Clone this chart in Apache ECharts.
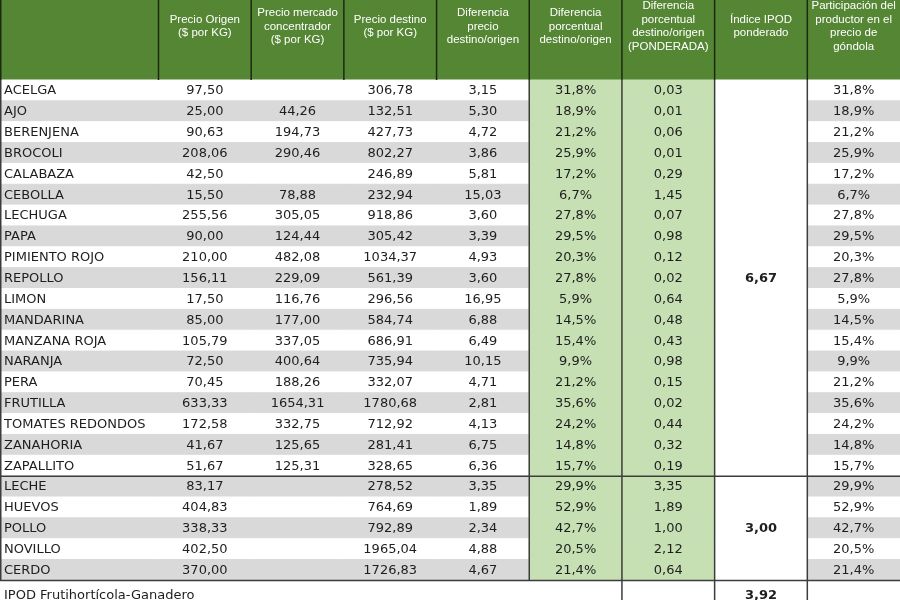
<!DOCTYPE html>
<html>
<head>
<meta charset="utf-8">
<script src="https://cdn.jsdelivr.net/npm/echarts@6/dist/echarts.min.js"></script>
<style>
  html, body { margin: 0; padding: 0; background: #fff; }
  #chart { width: 900px; height: 600px; }
</style>
</head>
<body>
<div id="chart"></div>
<script>
// column headers
const headers = [
  '',
  'Precio Origen\n($ por KG)',
  'Precio mercado\nconcentrador\n($ por KG)',
  'Precio destino\n($ por KG)',
  'Diferencia\nprecio\ndestino/origen',
  'Diferencia\nporcentual\ndestino/origen',
  'Diferencia\nporcentual\ndestino/origen\n(PONDERADA)',
  'Índice IPOD\nponderado',
  'Participación del\nproductor en el\nprecio de\ngóndola'
];

const products = [
  'ACELGA', 'AJO', 'BERENJENA', 'BROCOLI', 'CALABAZA', 'CEBOLLA', 'LECHUGA',
  'PAPA', 'PIMIENTO ROJO', 'REPOLLO', 'LIMON', 'MANDARINA', 'MANZANA ROJA',
  'NARANJA', 'PERA', 'FRUTILLA', 'TOMATES REDONDOS', 'ZANAHORIA', 'ZAPALLITO',
  'LECHE', 'HUEVOS', 'POLLO', 'NOVILLO', 'CERDO'
];

const precioOrigen = [
  97.50, 25.00, 90.63, 208.06, 42.50, 15.50, 255.56, 90.00, 210.00, 156.11,
  17.50, 85.00, 105.79, 72.50, 70.45, 633.33, 172.58, 41.67, 51.67,
  83.17, 404.83, 338.33, 402.50, 370.00
];

const precioMercado = [
  null, 44.26, 194.73, 290.46, null, 78.88, 305.05, 124.44, 482.08, 229.09,
  116.76, 177.00, 337.05, 400.64, 188.26, 1654.31, 332.75, 125.65, 125.31,
  null, null, null, null, null
];

const precioDestino = [
  306.78, 132.51, 427.73, 802.27, 246.89, 232.94, 918.86, 305.42, 1034.37, 561.39,
  296.56, 584.74, 686.91, 735.94, 332.07, 1780.68, 712.92, 281.41, 328.65,
  278.52, 764.69, 792.89, 1965.04, 1726.83
];

const diferencia = [
  3.15, 5.30, 4.72, 3.86, 5.81, 15.03, 3.60, 3.39, 4.93, 3.60,
  16.95, 6.88, 6.49, 10.15, 4.71, 2.81, 4.13, 6.75, 6.36,
  3.35, 1.89, 2.34, 4.88, 4.67
];

const difPorcentual = [
  31.8, 18.9, 21.2, 25.9, 17.2, 6.7, 27.8, 29.5, 20.3, 27.8,
  5.9, 14.5, 15.4, 9.9, 21.2, 35.6, 24.2, 14.8, 15.7,
  29.9, 52.9, 42.7, 20.5, 21.4
];

const ponderada = [
  0.03, 0.01, 0.06, 0.01, 0.29, 1.45, 0.07, 0.98, 0.12, 0.02,
  0.64, 0.48, 0.43, 0.98, 0.15, 0.02, 0.44, 0.32, 0.19,
  3.35, 1.89, 1.00, 2.12, 0.64
];

const participacion = [
  31.8, 18.9, 21.2, 25.9, 17.2, 6.7, 27.8, 29.5, 20.3, 27.8,
  5.9, 14.5, 15.4, 9.9, 21.2, 35.6, 24.2, 14.8, 15.7,
  29.9, 52.9, 42.7, 20.5, 21.4
];

// IPOD groups: first 19 rows fruit/veg, next 5 livestock
const groupSizes = [19, 5];
const ipodGroups = [6.67, 3.00];
const ipodTotal = 3.92;
const totalLabel = 'IPOD Frutihortícola-Ganadero';

// layout
const firstColWidth = 158.5;
const colEdges = [0, firstColWidth];
for (let i = 1; i < headers.length; i++) {
  colEdges.push(firstColWidth + i * (900 - firstColWidth) / (headers.length - 1));
}
const HEAD_H = 80;
const BODY_H = 520; // visible body height; the footer row runs off the bottom
const ROW_H = 20.85;
const FOOTER_SPAN = 1.4; // footer row is a bit taller than the others
const lastRow = products.length;
const nRows = lastRow + FOOTER_SPAN;

const GREEN = '#558634';
const LIGHT_GREEN = '#c6e0b4';
const GRAY = '#d9d9d9';
const LINE = '#3c3c3c';
const BODY_FONT = '"DejaVu Sans", Verdana, sans-serif';
const HEAD_FONT = '"Liberation Sans", Arial, sans-serif';

const fmt2 = (v) => v.toFixed(2).replace('.', ',');
const pct = (v) => v.toFixed(1).replace('.', ',') + '%';

// build body cells
const cells = [];
products.forEach((name, i) => {
  const band = i % 2 === 1 ? GRAY : '#ffffff';
  cells.push({ value: [0, i, 1], text: name, fill: band, align: 'left' });
  cells.push({ value: [1, i, 1], text: fmt2(precioOrigen[i]), fill: band });
  cells.push({ value: [2, i, 1], text: precioMercado[i] == null ? '' : fmt2(precioMercado[i]), fill: band });
  cells.push({ value: [3, i, 1], text: fmt2(precioDestino[i]), fill: band });
  cells.push({ value: [4, i, 1], text: fmt2(diferencia[i]), fill: band });
  cells.push({ value: [5, i, 1], text: pct(difPorcentual[i]), fill: LIGHT_GREEN });
  cells.push({ value: [6, i, 1], text: fmt2(ponderada[i]), fill: LIGHT_GREEN });
  cells.push({ value: [8, i, 1], text: pct(participacion[i]), fill: band });
});
let start = 0;
groupSizes.forEach((size, g) => {
  cells.push({ value: [7, start, size], text: fmt2(ipodGroups[g]), fill: '#ffffff', bold: true });
  start += size;
});
cells.push({ value: [0, start, FOOTER_SPAN], text: totalLabel, fill: null, align: 'left' });
cells.push({ value: [7, start, FOOTER_SPAN], text: fmt2(ipodTotal), fill: '#ffffff', bold: true });

// border lines [x0, y0, x1, y1] in axis units
const bodyLines = [
  [0.75, 0, 0.75, lastRow],
  [colEdges[5], 0, colEdges[5], lastRow],
  [colEdges[6], 0, colEdges[6], nRows],
  [colEdges[7], 0, colEdges[7], nRows],
  [colEdges[8], 0, colEdges[8], nRows],
  [0, groupSizes[0], 900, groupSizes[0]],
  [0, lastRow, 900, lastRow]
];
const headLines = [[0.75, 0, 0.75, 1]];
for (let c = 1; c < headers.length; c++) headLines.push([colEdges[c], 0, colEdges[c], 1]);

function cellRect(api, col, row, span) {
  const p0 = api.coord([colEdges[col], row]);
  const p1 = api.coord([colEdges[col + 1], row + span]);
  return { x: p0[0], y: p0[1], width: p1[0] - p0[0], height: p1[1] - p0[1] };
}

function renderCell(params, api) {
  const cell = cells[params.dataIndex];
  const r = cellRect(api, api.value(0), api.value(1), api.value(2));
  const left = cell.align === 'left';
  const children = [];
  if (cell.fill) {
    // stroke in the fill colour hides anti-aliasing seams between cells
    children.push({ type: 'rect', shape: r, style: { fill: cell.fill, stroke: cell.fill, lineWidth: 1 } });
  }
  children.push({
    type: 'text',
    style: {
      text: cell.text,
      x: left ? r.x + 4 : r.x + r.width / 2,
      y: r.y + r.height / 2 + 0.5,
      fill: '#1e1e1e',
      font: (cell.bold ? 'bold ' : '') + '13px ' + BODY_FONT,
      align: left ? 'left' : 'center',
      textAlign: left ? 'left' : 'center',
      verticalAlign: 'middle',
      textVerticalAlign: 'middle'
    }
  });
  return { type: 'group', children: children };
}

function renderHeader(params, api) {
  const r = cellRect(api, api.value(0), 0, 1);
  return {
    type: 'group',
    children: [
      { type: 'rect', shape: r, style: { fill: GREEN, stroke: GREEN, lineWidth: 1 } },
      {
        type: 'text',
        style: {
          text: headers[params.dataIndex],
          x: r.x + r.width / 2,
          y: r.y + 26.5,
          fill: '#ffffff',
          fontSize: 11.5,
          fontFamily: HEAD_FONT,
          lineHeight: 13.5,
          align: 'center',
          textAlign: 'center',
          verticalAlign: 'middle',
          textVerticalAlign: 'middle'
        }
      }
    ]
  };
}

function lineRenderer(list, color, width) {
  return function (params, api) {
    const l = list[params.dataIndex];
    const p0 = api.coord([l[0], l[1]]);
    const p1 = api.coord([l[2], l[3]]);
    return {
      type: 'line',
      shape: { x1: p0[0], y1: p0[1], x2: p1[0], y2: p1[1] },
      style: { stroke: color, lineWidth: width }
    };
  };
}

const chart = echarts.init(document.getElementById('chart'));
chart.setOption({
  animation: false,
  grid: [
    { left: 0, right: 0, top: 0, height: HEAD_H },
    { left: 0, right: 0, top: HEAD_H, height: BODY_H }
  ],
  xAxis: [
    { type: 'value', gridIndex: 0, min: 0, max: 900, show: false },
    { type: 'value', gridIndex: 1, min: 0, max: 900, show: false }
  ],
  yAxis: [
    { type: 'value', gridIndex: 0, min: 0, max: 1, inverse: true, show: false },
    { type: 'value', gridIndex: 1, min: 0, max: BODY_H / ROW_H, inverse: true, show: false }
  ],
  series: [
    {
      type: 'custom', xAxisIndex: 0, yAxisIndex: 0, clip: false,
      renderItem: renderHeader,
      data: headers.map((h, c) => [c])
    },
    {
      type: 'custom', xAxisIndex: 0, yAxisIndex: 0, clip: false, z: 3,
      renderItem: lineRenderer(headLines, '#1c2a12', 1.5),
      data: headLines.map((l, i) => [i])
    },
    {
      type: 'custom', xAxisIndex: 1, yAxisIndex: 1, clip: false,
      renderItem: renderCell,
      data: cells.map((c) => c.value)
    },
    {
      type: 'custom', xAxisIndex: 1, yAxisIndex: 1, clip: false, z: 3,
      renderItem: lineRenderer(bodyLines, LINE, 1.5),
      data: bodyLines.map((l, i) => [i])
    }
  ]
});
</script>
</body>
</html>
